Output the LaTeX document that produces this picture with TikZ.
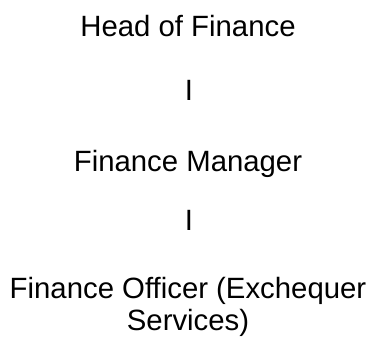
\documentclass[tikz,border=0pt]{standalone}
\usepackage{fontspec}
\setmainfont{Liberation Sans}
\usetikzlibrary{positioning}
\begin{document}
\begin{tikzpicture}[x=0.75pt,y=-0.75pt,every node/.style={font=\fontsize{22}{23.5}\selectfont,inner sep=0pt,anchor=base}]
  \useasboundingbox[fill=white] (0,0) rectangle (371,336);
  \node (head) at (188,36) {Head of Finance};
  \node (bar1) at (189,100) {I};
  \node (mgr) at (188,171) {Finance Manager};
  \node (bar2) at (189,230) {I};
  % base of a two-line node is its last line
  \node[align=center] (officer) at (188,330) {Finance Officer (Exchequer\\Services)};
\end{tikzpicture}
\end{document}
